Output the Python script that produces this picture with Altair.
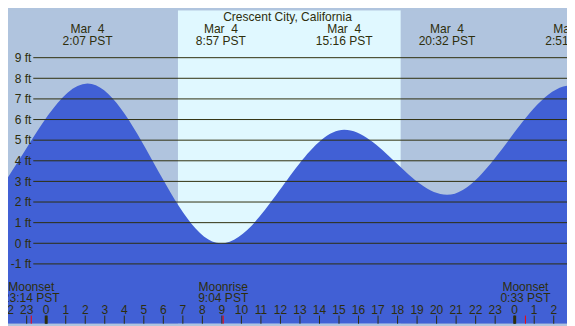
import altair as alt
import pandas as pd

# ---------------- data ----------------
TITLE = "Crescent City, California"

# tide extremes (month-day HH:MM, local PST) and heights in ft
tide_times = ["03-03 13:30", "03-03 19:50", "03-04 02:07", "03-04 08:57",
              "03-04 15:16", "03-04 20:32", "03-05 02:51", "03-05 09:40",
              "03-05 16:00"]
tide_heights = [5.3, 1.4, 7.75, 0.0, 5.5, 2.35, 7.65, -0.3, 5.4]
tide_dates = ["Mar\u00a0\u00a03", "Mar\u00a0\u00a03", "Mar\u00a0\u00a04", "Mar\u00a0\u00a04",
              "Mar\u00a0\u00a04", "Mar\u00a0\u00a04", "Mar\u00a0\u00a05", "Mar\u00a0\u00a05",
              "Mar\u00a0\u00a05"]

# sun: night / day shading
sun_starts = ["03-03 18:09", "03-04 06:45", "03-04 18:10"]
sun_ends = ["03-04 06:45", "03-04 18:10", "03-05 06:44"]
sun_kinds = ["night", "day", "night"]

# moon events
moon_times = ["03-03 23:14", "03-04 09:04", "03-05 00:33"]
moon_kinds = ["Moonset", "Moonrise", "Moonset"]

# axis labels
ft_levels = [-1, 0, 1, 2, 3, 4, 5, 6, 7, 8, 9]
hour_ticks = list(range(-2, 27))  # hours relative to Mar 4 00:00

# ---------------- layout / style ----------------
W, H = 567, 318
SX, SY = W / 575, H / 326
X_DOMAIN = [-1.957, 26.68]
Y_DOMAIN = [-3.903, 11.30]
NIGHT = "#B0C4DE"
DAY = "#E0F8FF"
WATER = "#4160D5"
INK = "#2E2E0C"
FONT = "Liberation Sans"
FS = 12.2


def hours(s):
    md, hm = s.split(" ")
    day = int(md.split("-")[1])
    h, m = hm.split(":")
    return (day - 4) * 24 + int(h) + int(m) / 60


def clock(s):
    h, m = s.split(" ")[1].split(":")
    return f"{int(h)}:{m} PST"


xs = alt.Scale(domain=X_DOMAIN, nice=False, zero=False)
ys = alt.Scale(domain=Y_DOMAIN, nice=False, zero=False)

bg_df = pd.DataFrame({"start": [hours(t) for t in sun_starts],
                      "end": [hours(t) for t in sun_ends],
                      "kind": sun_kinds})
tide_df = pd.DataFrame({"hour": [hours(t) for t in tide_times],
                        "height": tide_heights,
                        "date": tide_dates,
                        "time": [clock(t) for t in tide_times]})
# only the extremes that fall on (or just past the edge of) the visible span get labels
lab_df = tide_df[(tide_df["hour"] > X_DOMAIN[0] - 0.5) & (tide_df["hour"] < X_DOMAIN[1] + 0.5)]
grid_df = pd.DataFrame({"ft": ft_levels, "label": [f"{v} ft" for v in ft_levels]})
hour_df = pd.DataFrame({"hour": hour_ticks, "label": [str(h % 24) for h in hour_ticks]})
mid_df = hour_df[hour_df["hour"] % 24 == 0]
moon_df = pd.DataFrame({"hour": [hours(t) for t in moon_times],
                        "kind": moon_kinds,
                        "time": [clock(t) for t in moon_times]})
title_df = pd.DataFrame({"t": [TITLE]})

X = lambda f: alt.X(f, scale=xs, axis=None)
Y = lambda f: alt.Y(f, scale=ys, axis=None)

bg = alt.Chart(bg_df).mark_rect(clip=True).encode(
    x=X("start:Q"), x2="end:Q", y=alt.value(0), y2=alt.value(H),
    color=alt.Color("kind:N", scale=alt.Scale(domain=["night", "day"], range=[NIGHT, DAY]),
                    legend=None))

water = alt.Chart(tide_df).mark_area(interpolate="monotone", clip=True, color=WATER).encode(
    x=X("hour:Q"), y=Y("height:Q"), y2=alt.Y2(datum=Y_DOMAIN[0]))

grid = alt.Chart(grid_df).mark_rule(color=INK, strokeWidth=1).encode(
    y=Y("ft:Q"), x=alt.value(26 * SX), x2=alt.value(W))

txt = dict(font=FONT, fontSize=FS, color=INK)

ylab = alt.Chart(grid_df).mark_text(align="right", baseline="alphabetic", dy=4.5 * SY, **txt).encode(
    y=Y("ft:Q"), x=alt.value(24 * SX), text="label:N")

title = alt.Chart(title_df).mark_text(align="center", baseline="alphabetic", **txt).encode(
    x=alt.value(W / 2), y=alt.value(11.7 * SY), text="t:N")

tdate = alt.Chart(lab_df).mark_text(align="center", baseline="alphabetic", **txt).encode(
    x=X("hour:Q"), y=alt.value(24 * SY), text="date:N")
ttime = alt.Chart(lab_df).mark_text(align="center", baseline="alphabetic", **txt).encode(
    x=X("hour:Q"), y=alt.value(36 * SY), text="time:N")

mname = alt.Chart(moon_df).mark_text(align="center", baseline="alphabetic", **txt).encode(
    x=X("hour:Q"), y=alt.value(291.5 * SY), text="kind:N")
mtime = alt.Chart(moon_df).mark_text(align="center", baseline="alphabetic", **txt).encode(
    x=X("hour:Q"), y=alt.value(303.7 * SY), text="time:N")

hlab = alt.Chart(hour_df).mark_text(align="center", baseline="alphabetic", **txt).encode(
    x=X("hour:Q"), y=alt.value(316 * SY), text="label:N")
hticks = alt.Chart(hour_df).mark_rule(color=INK, strokeWidth=1).encode(
    x=X("hour:Q"), y=alt.value(317.5 * SY), y2=alt.value(H))
mticks = alt.Chart(mid_df).mark_rule(color=INK, strokeWidth=3).encode(
    x=X("hour:Q"), y=alt.value(317.5 * SY), y2=alt.value(H))
moticks = alt.Chart(moon_df).mark_rule(color="#FF0000", strokeWidth=1).encode(
    x=X("hour:Q"), y=alt.value(317.5 * SY), y2=alt.value(H))

chart = alt.layer(bg, water, grid, ylab, title, tdate, ttime, mname, mtime,
                  hlab, hticks, mticks, moticks).properties(
    width=W, height=H, autosize="none", padding=0, background=NIGHT
).configure_view(stroke=None)

chart.save("out.html", embed_options={"renderer": "svg", "actions": False})
